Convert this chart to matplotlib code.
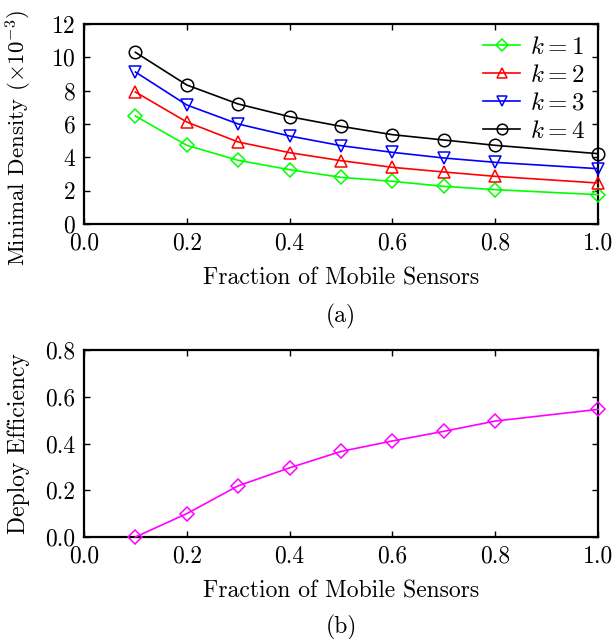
import matplotlib
matplotlib.use("Agg")
import matplotlib.pyplot as plt

plt.rcParams["font.family"] = "cmr10"
plt.rcParams["mathtext.fontset"] = "cm"
plt.rcParams["axes.formatter.use_mathtext"] = True
plt.rcParams["font.size"] = 17

# Fraction of mobile sensors (no point at 0.9)
fraction = [0.1, 0.2, 0.3, 0.4, 0.5, 0.6, 0.7, 0.8, 1.0]

# Minimal density (x1e-3) for each k
density_k1 = [6.48, 4.72, 3.82, 3.26, 2.80, 2.56, 2.26, 2.06, 1.76]
density_k2 = [7.92, 6.12, 4.92, 4.28, 3.80, 3.40, 3.12, 2.86, 2.46]
density_k3 = [9.12, 7.14, 6.00, 5.28, 4.70, 4.30, 3.96, 3.70, 3.32]
density_k4 = [10.30, 8.34, 7.20, 6.44, 5.86, 5.36, 5.04, 4.72, 4.22]

# Deploy efficiency
efficiency = [0.0, 0.10, 0.219, 0.296, 0.366, 0.411, 0.452, 0.496, 0.546]

W, H = 615, 639
fig = plt.figure(figsize=(W / 100, H / 100), dpi=100)


def box(left, top, right, bottom):
    return [left / W, 1 - bottom / H, (right - left) / W, (bottom - top) / H]


def style(ax):
    ax.tick_params(direction="in", top=True, right=True, length=4, width=1.0, pad=6)
    for s in ax.spines.values():
        s.set_linewidth(1.6)


ax1 = fig.add_axes(box(84, 24, 598, 224))
series = [
    (density_k1, "#00ff00", "D", "$k=1$"),
    (density_k2, "#ff0000", "^", "$k=2$"),
    (density_k3, "#0000ff", "v", "$k=3$"),
    (density_k4, "#000000", "o", "$k=4$"),
]
for vals, col, mk, lab in series:
    ms = 7 if mk == "D" else 9
    ax1.plot(fraction, vals, color=col, marker=mk, markersize=ms, markerfacecolor="none",
             markeredgewidth=1.1, linewidth=1.2, label=lab, clip_on=False, zorder=3)
ax1.set_xlim(0, 1.0)
ax1.set_ylim(0, 12)
ax1.set_xticks([0.0, 0.2, 0.4, 0.6, 0.8, 1.0])
ax1.set_xticklabels(["0.0", "0.2", "0.4", "0.6", "0.8", "1.0"])
ax1.set_yticks([0, 2, 4, 6, 8, 10, 12])
ax1.set_xlabel("Fraction of Mobile Sensors", labelpad=9)
ax1.set_ylabel(r"Minimal Density ($\times10^{-3}$)", fontsize=16.5)
ax1.yaxis.set_label_coords(-0.098, 0.43)
style(ax1)
leg = ax1.legend(loc="upper right", frameon=False, handlelength=1.5, labelspacing=0.22,
                 borderaxespad=0.1, handletextpad=0.4, fontsize=18, markerscale=0.85)

ax2 = fig.add_axes(box(84, 350, 598, 537))
ax2.plot(fraction, efficiency, color="#ff00ff", marker="D", markersize=7,
         markerfacecolor="none", markeredgewidth=1.1, linewidth=1.2, clip_on=False, zorder=3)
ax2.set_xlim(0, 1.0)
ax2.set_ylim(0, 0.8)
ax2.set_xticks([0.0, 0.2, 0.4, 0.6, 0.8, 1.0])
ax2.set_xticklabels(["0.0", "0.2", "0.4", "0.6", "0.8", "1.0"])
ax2.set_yticks([0.0, 0.2, 0.4, 0.6, 0.8])
ax2.set_yticklabels(["0.0", "0.2", "0.4", "0.6", "0.8"])
ax2.set_xlabel("Fraction of Mobile Sensors", labelpad=9)
ax2.set_ylabel("Deploy Efficiency")
ax2.yaxis.set_label_coords(-0.106, 0.5)
style(ax2)

fig.text(341 / W, 1 - 316 / H, "(a)", ha="center", va="center")
fig.text(341 / W, 1 - 627 / H, "(b)", ha="center", va="center")

fig.savefig("out.png", dpi=100)
